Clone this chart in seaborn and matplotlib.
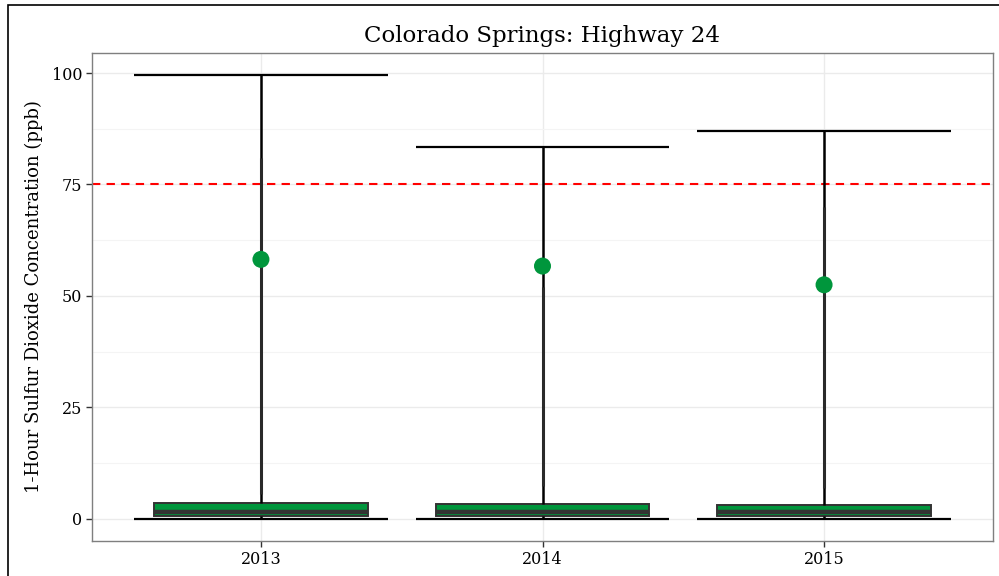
import numpy as np
import pandas as pd
import matplotlib
matplotlib.use("Agg")
import matplotlib.pyplot as plt
import seaborn as sns
from matplotlib.patches import Rectangle

# Hourly SO2 summary per year
years = ["2013", "2014", "2015"]
so2_min = [0.0, 0.0, 0.0]
so2_q1 = [0.7, 0.6, 0.6]
so2_median = [1.6, 1.5, 1.5]
so2_q3 = [3.6, 3.3, 3.1]
so2_max = [99.5, 83.3, 86.9]
# 99th percentile of the daily maximum
so2_p99 = [58.2, 56.7, 52.5]
# span covered by individual outlier readings
outlier_lo = [5.6, 7.3, 7.0]
outlier_hi = [81.0, 52.0, 70.0]
naaqs = 75

sns.set_theme(style="whitegrid")
plt.rcParams["font.family"] = ["DejaVu Serif"]
plt.rcParams["text.color"] = "black"
plt.rcParams["axes.labelcolor"] = "black"

# Five-number summaries laid out so quartiles fall exactly on q1/median/q3
rows = []
for y, a, b, c, d, e in zip(years, so2_min, so2_q1, so2_median, so2_q3, so2_max):
    for v in (a, b, c, d, e):
        rows.append({"year": y, "so2": v})
df = pd.DataFrame(rows)
pts = pd.DataFrame({"year": years, "p99": so2_p99})

fig = plt.figure(figsize=(9.99, 5.76), dpi=100)
ax = fig.add_axes([92 / 999, 1 - 541 / 576, (993 - 92) / 999, (541 - 53) / 576])

green = "#00963c"
sns.boxplot(data=df, x="year", y="so2", ax=ax, whis=(0, 100), width=0.76,
            color=green, saturation=1, linewidth=1.4, linecolor="#333333",
            showcaps=False,
            whiskerprops={"color": "black", "linewidth": 1.8},
            medianprops={"color": "#333333", "linewidth": 3.2},
            boxprops={"facecolor": green, "edgecolor": "#333333"}, zorder=3)

xs = np.arange(len(years))
# whisker caps at min and max
ax.hlines(so2_max, xs - 0.45, xs + 0.45, color="black", linewidth=1.6, zorder=4)
ax.hlines(so2_min, xs - 0.45, xs + 0.45, color="black", linewidth=1.6, zorder=4)
# dense band of outlier readings along the whisker
ax.vlines(xs, outlier_lo, outlier_hi, color="#2a2a2a", linewidth=2.2, zorder=3)

ax.axhline(naaqs, color="red", linestyle=(0, (4, 3)), linewidth=1.5, zorder=2)

sns.scatterplot(data=pts, x="year", y="p99", ax=ax, color=green, s=150,
                edgecolor="none", zorder=5, legend=False)

ax.set_xlim(-0.6, 2.6)
ax.set_ylim(-4.98, 104.5)
ax.set_yticks([0, 25, 50, 75, 100])
ax.set_yticks([12.5, 37.5, 62.5, 87.5], minor=True)
ax.grid(True, which="major", color="#ebebeb", linewidth=1.0)
ax.grid(True, which="minor", axis="y", color="#f4f4f4", linewidth=0.8)
ax.set_axisbelow(True)
for s in ax.spines.values():
    s.set_visible(True)
    s.set_color("#7f7f7f")
    s.set_linewidth(1.0)
ax.tick_params(axis="both", which="major", length=4, width=1, color="#333333",
               labelsize=11.5, labelcolor="black", pad=3, direction="out")
ax.tick_params(axis="both", which="minor", length=0)
ax.tick_params(bottom=True, left=True)
ax.set_xlabel("")
ax.set_ylabel("1-Hour Sulfur Dioxide Concentration (ppb)", fontsize=13,
              labelpad=6, color="black")
ax.set_title("Colorado Springs: Highway 24", fontsize=16.5, pad=8, color="black")

fig.patches.append(Rectangle((8 / 999, -0.05), 1.1, 1 - 5 / 576 + 0.05,
                             transform=fig.transFigure, fill=False,
                             edgecolor="black", linewidth=1.2))

fig.savefig("out.png", dpi=100)
